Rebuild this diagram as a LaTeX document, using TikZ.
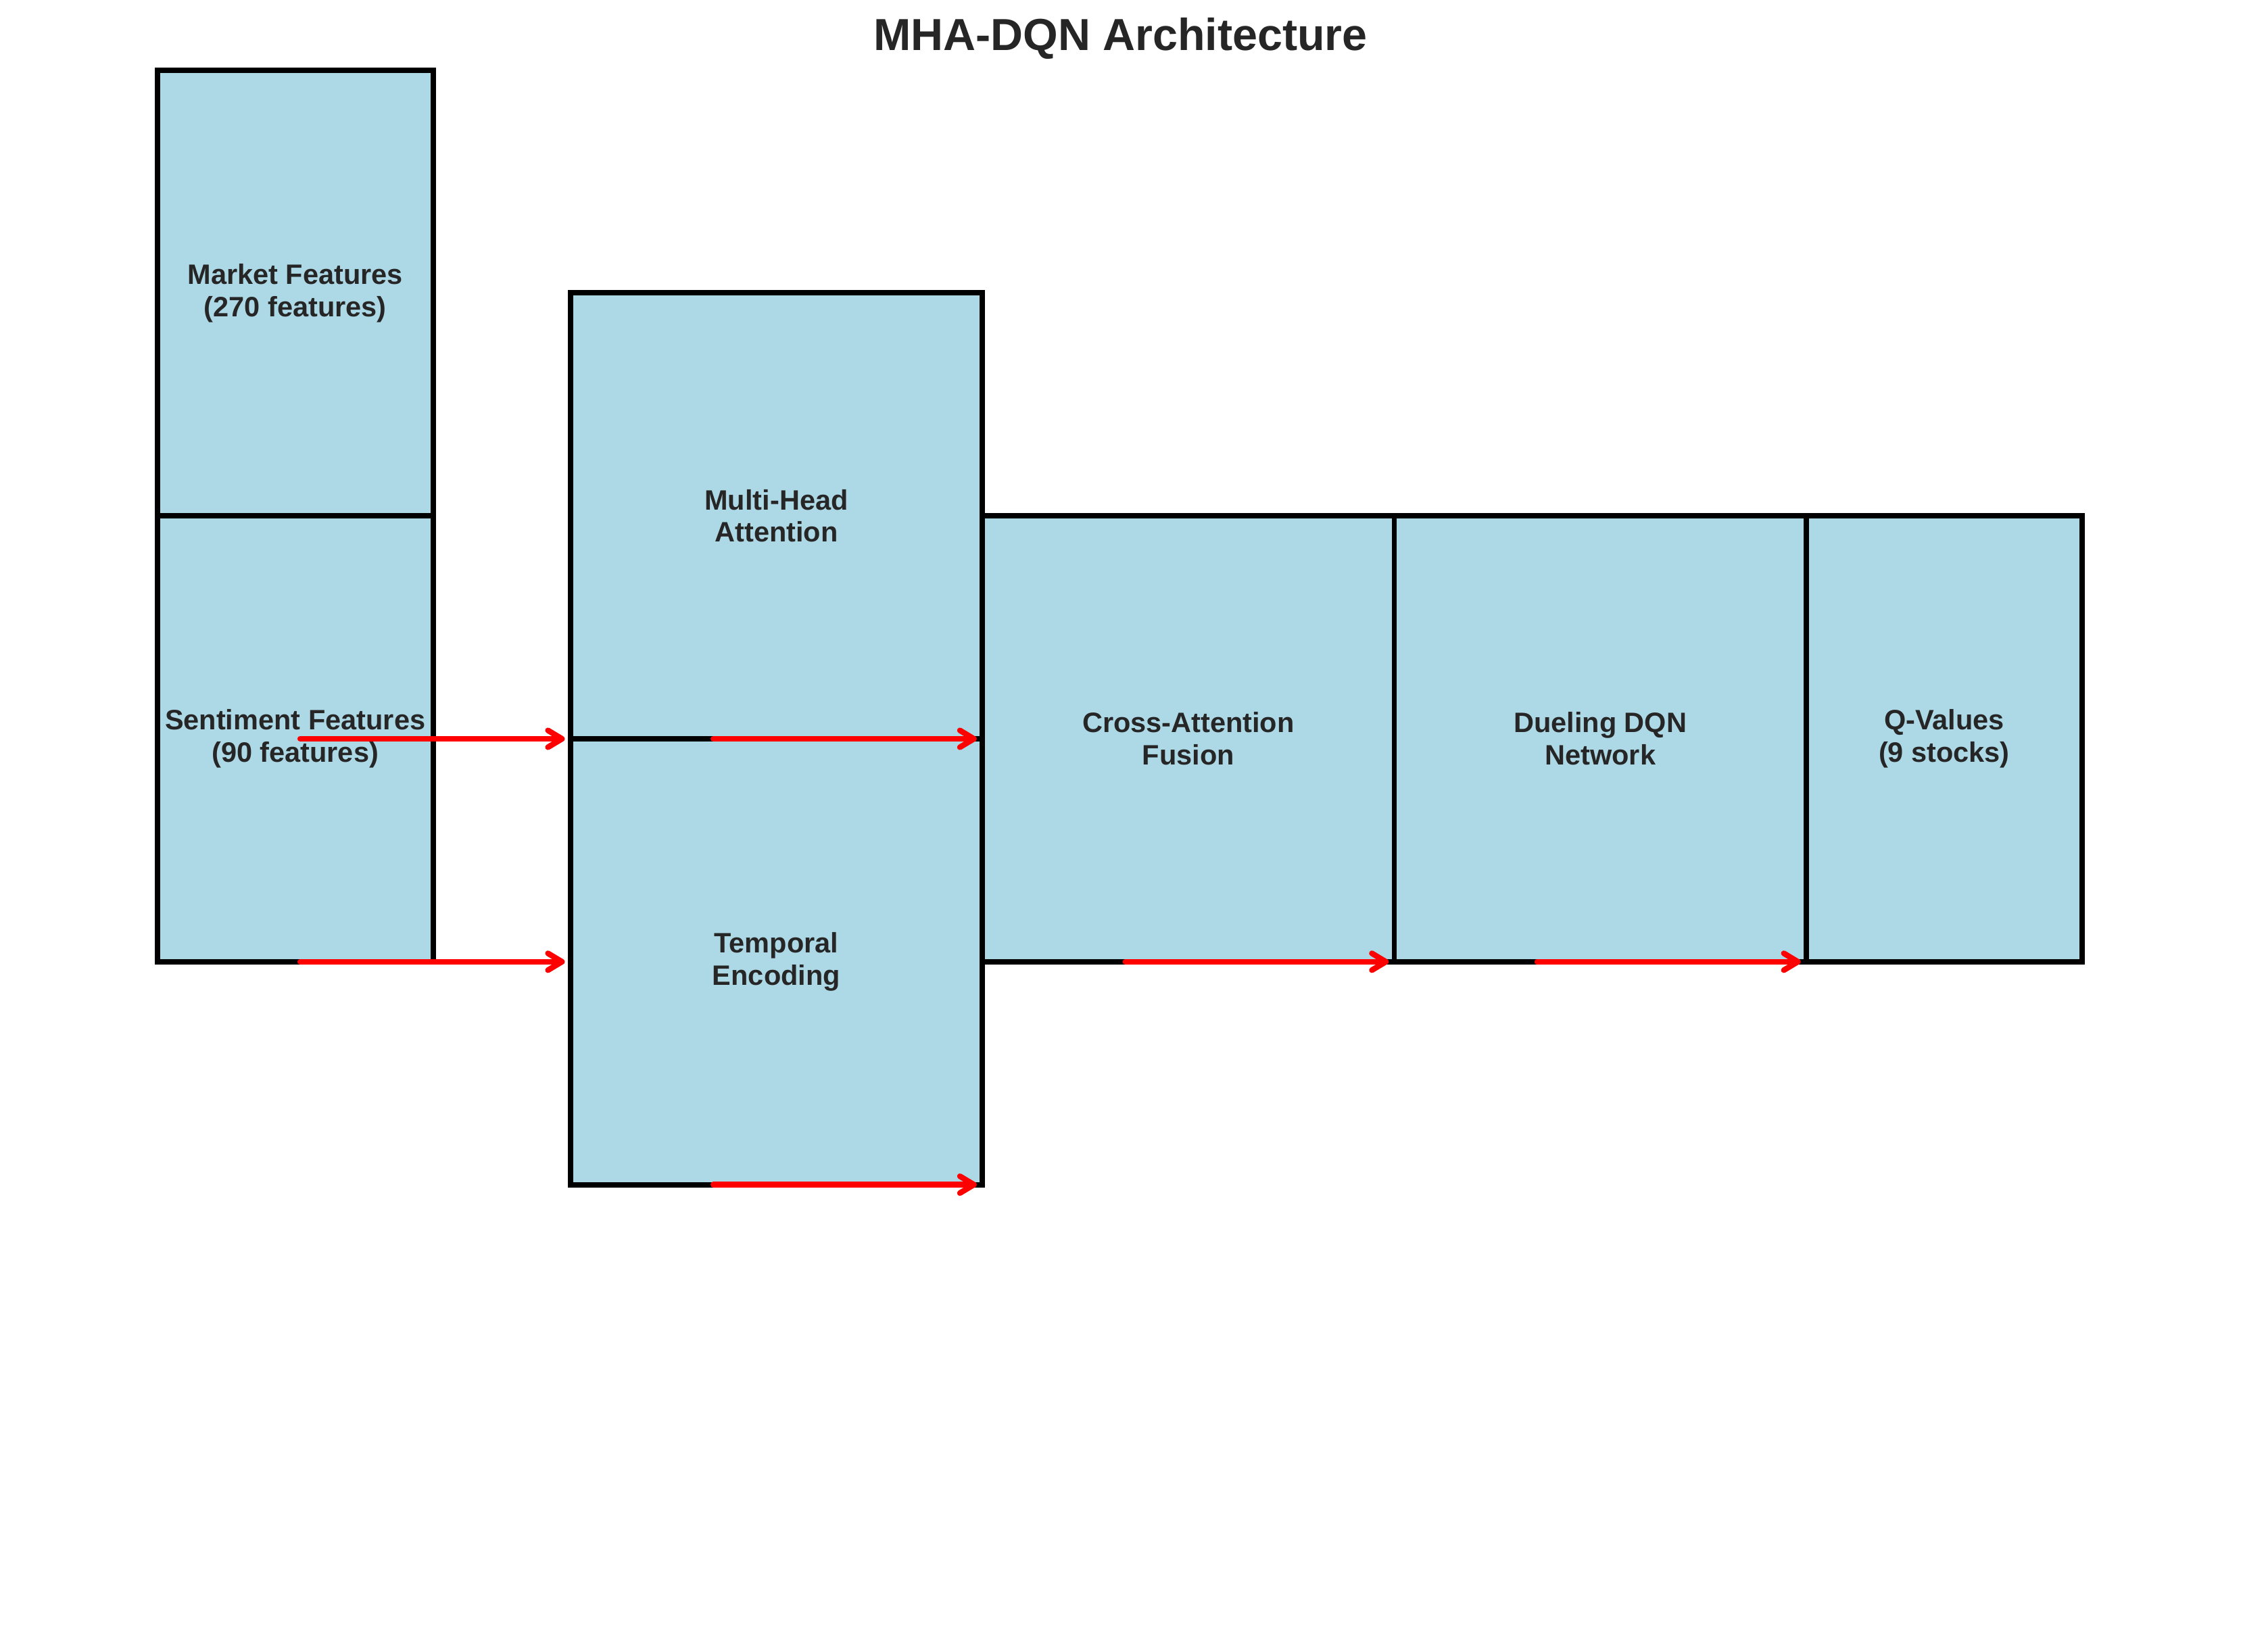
\documentclass[tikz,border=0pt]{standalone}
\usepackage{fontspec}
\setmainfont{Liberation Sans}
\usepackage{xcolor}
\usepackage{tikz}
\usetikzlibrary{
    arrows.meta,
    positioning,
    calc
}
\definecolor{boxblue}{HTML}{ADD8E6}
\definecolor{labelgray}{HTML}{262626}
\tikzset{
    block/.style={
        rectangle,
        draw=black,
        fill=boxblue,
        line width=1.9pt,
        outer sep=0pt,
        inner sep=1pt,
        align=center,
        minimum height=55.85mm,
        text=labelgray,
        font={\fontsize{10}{11.5}\selectfont\bfseries}
    },
    narrowblock/.style={
        block,
        minimum width=34.55mm
    },
    wideblock/.style={
        block,
        minimum width=51.6mm
    },
    arrow/.style={
        -{Straight Barb[length=5pt, width=6pt, round]},
        draw=red,
        line width=2pt,
        line cap=round,
        shorten <=2pt,
        shorten >=2pt
    },
    heading/.style={
        text=labelgray,
        font={\fontsize{16}{19}\selectfont\bfseries}
    }
}

\begin{document}
\begin{tikzpicture}[node distance=0pt]

\useasboundingbox (0,0) rectangle (28.07,-20.69);

\node[heading] (title) at (14.035,-0.483) {MHA-DQN Architecture};

\node[narrowblock] (market) at (3.697,-3.670) {Market Features\\(270 features)};
\node[narrowblock, below=of market] (sentiment) {Sentiment Features\\(90 features)};
\node[wideblock, right=17.2mm of market.south east] (mha) {Multi-Head\\Attention};
\node[wideblock, below=of mha] (temporal) {Temporal\\Encoding};
\node[wideblock, right=of mha.south east] (fusion) {Cross-Attention\\Fusion};
\node[wideblock, right=of fusion] (dueling) {Dueling DQN\\Network};
\node[narrowblock, right=of dueling] (qvalues) {Q-Values\\(9 stocks)};

\draw[arrow] ($(sentiment.west)+(17.2mm,0)$) -- (sentiment.center -| mha.west);
\draw[arrow] ($(sentiment.south west)+(17.2mm,0)$) -- (sentiment.south -| temporal.west);
\draw[arrow] ($(mha.south west)+(17.2mm,0)$) -- (mha.south -| fusion.west);
\draw[arrow] ($(temporal.south west)+(17.2mm,0)$) -- (temporal.south -| fusion.west);
\draw[arrow] ($(fusion.south west)+(17.2mm,0)$) -- (fusion.south -| dueling.west);
\draw[arrow] ($(dueling.south west)+(17.2mm,0)$) -- (dueling.south -| qvalues.west);

\end{tikzpicture}
\end{document}
